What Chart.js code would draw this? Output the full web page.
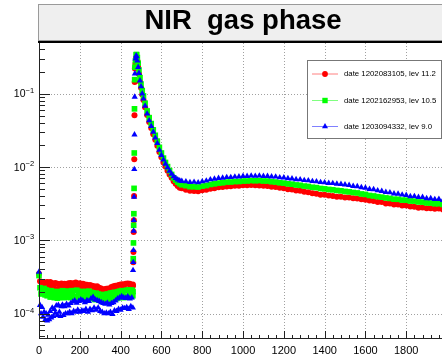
<!DOCTYPE html>
<html>
<head>
<meta charset="utf-8">
<title>NIR gas phase</title>
<script src="https://cdn.jsdelivr.net/npm/chart.js@4.4.1/dist/chart.umd.min.js"></script>
<style>
    html, body { margin: 0; padding: 0; background: #fff; overflow: hidden; }
    #wrap { width: 450px; height: 358px; }
</style>
</head>
<body>
<div id="wrap"><canvas id="nirChart" width="450" height="358"></canvas></div>
<script>
// Channel positions shared by all three runs
const xValues = [
    0, 5, 10, 15, 20, 25, 30, 35, 40, 45, 50, 55, 60, 65, 70, 75, 80, 85, 90, 95,
    100, 105, 110, 115, 120, 125, 130, 135, 140, 145, 150, 155, 160, 165, 170, 175, 180, 185, 190, 195,
    200, 205, 210, 215, 220, 225, 230, 235, 240, 245, 250, 255, 260, 265, 270, 275, 280, 285, 290, 295,
    300, 305, 310, 315, 320, 325, 330, 335, 340, 345, 350, 355, 360, 365, 370, 375, 380, 385, 390, 395,
    400, 405, 410, 415, 420, 425, 430, 435, 440, 445, 450, 455, 460,
    461, 462, 463, 464, 465, 466, 467, 468, 469, 470,
    473, 476, 479, 482, 486, 490, 495, 500, 506, 512,
    520, 530, 540, 550, 560, 570, 580, 590, 600, 610, 620, 630, 640, 650, 660, 670, 680, 690, 700,
    720, 740, 760, 780, 800, 820, 840, 860, 880, 900, 920, 940, 960, 980, 1000, 1020, 1040, 1060, 1080, 1100,
    1120, 1140, 1160, 1180, 1200, 1220, 1240, 1260, 1280, 1300, 1320, 1340, 1360, 1380, 1400, 1420, 1440, 1460, 1480, 1500,
    1520, 1540, 1560, 1580, 1600, 1620, 1640, 1660, 1680, 1700, 1720, 1740, 1760, 1780, 1800, 1820, 1840, 1860, 1880, 1900,
    1920, 1940, 1960, 1980
];

// date 1202083105, lev 11.2
const run1Values = [
    3.5e-4,
    2.75e-4, 2.25e-4, 2.7e-4, 2.55e-4, 2.2e-4, 2.65e-4, 2.3e-4, 2.7e-4, 2.2e-4, 2.45e-4,
    2.7e-4, 2.15e-4, 2.6e-4, 2.2e-4, 2.5e-4, 2.62e-4, 2.12e-4, 2.55e-4, 2.15e-4, 2.5e-4,
    2.1e-4, 2.58e-4, 2.4e-4, 2.08e-4, 2.55e-4, 2.1e-4, 2.5e-4, 2.12e-4, 2.6e-4, 2.2e-4,
    2.62e-4, 2.45e-4, 2.15e-4, 2.6e-4, 2.2e-4, 2.65e-4, 2.2e-4, 2.55e-4, 2.15e-4, 2.6e-4,
    2.42e-4, 2.1e-4, 2.55e-4, 2.12e-4, 2.5e-4, 2.05e-4, 2.48e-4, 2.3e-4, 2.0e-4, 2.45e-4,
    2.02e-4, 2.4e-4, 1.98e-4, 2.35e-4, 2.2e-4, 1.95e-4, 2.35e-4, 1.9e-4, 2.25e-4, 1.85e-4,
    2.2e-4, 2.05e-4, 1.8e-4, 2.15e-4, 1.82e-4, 2.18e-4, 1.85e-4, 2.2e-4, 1.95e-4, 1.88e-4,
    2.3e-4, 1.95e-4, 2.35e-4, 2.0e-4, 2.4e-4, 2.25e-4, 1.98e-4, 2.45e-4, 2.05e-4, 2.5e-4,
    2.1e-4, 2.52e-4, 2.35e-4, 2.08e-4, 2.55e-4, 2.12e-4, 2.58e-4, 2.15e-4, 2.55e-4, 2.4e-4,
    2.15e-4, 2.5e-4,
    2.4e-4, 5.0e-4, 6.9e-4, 1.3e-3, 1.87e-3, 4.0e-3, 1.27e-2, 5.06e-2, 0.144, 0.22,
    0.26, 0.30, 0.31, 0.28, 0.23, 0.185, 0.145, 0.12, 0.097, 0.082,
    0.065, 0.051, 0.041, 0.034, 0.028, 0.0235, 0.0195, 0.016, 0.0135, 0.0115,
    0.0101, 0.0089, 0.0079, 0.0071, 0.0064, 0.0059, 0.0055, 0.0052, 0.0051,
    4.9e-3, 4.72e-3, 4.7e-3, 4.66e-3, 4.8e-3, 4.88e-3, 5.02e-3, 5.12e-3, 5.27e-3, 5.32e-3,
    5.42e-3, 5.43e-3, 5.52e-3, 5.53e-3, 5.62e-3, 5.63e-3, 5.67e-3, 5.62e-3, 5.6e-3, 5.52e-3,
    5.5e-3, 5.38e-3, 5.32e-3, 5.18e-3, 5.12e-3, 4.98e-3, 4.92e-3, 4.78e-3, 4.72e-3, 4.58e-3,
    4.52e-3, 4.38e-3, 4.32e-3, 4.18e-3, 4.17e-3, 4.08e-3, 4.02e-3, 3.93e-3, 3.92e-3, 3.83e-3,
    3.82e-3, 3.73e-3, 3.72e-3, 3.63e-3, 3.57e-3, 3.48e-3, 3.42e-3, 3.33e-3, 3.32e-3, 3.18e-3,
    3.17e-3, 3.08e-3, 3.07e-3, 2.98e-3, 2.97e-3, 2.88e-3, 2.87e-3, 2.78e-3, 2.8e-3, 2.73e-3,
    2.74e-3, 2.68e-3, 2.7e-3, 2.63e-3
];

// date 1202162953, lev 10.5
const run2Values = [
    3.3e-4,
    2.25e-4, 1.85e-4, 2.15e-4, 1.95e-4, 2.2e-4, 1.8e-4, 2.1e-4, 1.75e-4, 2.05e-4, 1.9e-4,
    1.68e-4, 2.05e-4, 1.7e-4, 2.0e-4, 1.65e-4, 1.95e-4, 1.85e-4, 1.62e-4, 2.0e-4, 1.65e-4,
    1.98e-4, 1.7e-4, 2.05e-4, 1.9e-4, 1.65e-4, 2.0e-4, 1.68e-4, 2.02e-4, 1.7e-4, 1.98e-4,
    1.65e-4, 2.05e-4, 1.9e-4, 1.68e-4, 2.05e-4, 1.7e-4, 2.08e-4, 1.68e-4, 2.0e-4, 1.85e-4,
    1.65e-4, 2.0e-4, 1.68e-4, 1.98e-4, 1.65e-4, 2.0e-4, 1.85e-4, 1.62e-4, 2.02e-4, 1.65e-4,
    1.95e-4, 1.6e-4, 1.92e-4, 1.75e-4, 1.55e-4, 1.9e-4, 1.58e-4, 1.85e-4, 1.52e-4, 1.82e-4,
    1.68e-4, 1.5e-4, 1.8e-4, 1.52e-4, 1.82e-4, 1.55e-4, 1.85e-4, 1.7e-4, 1.55e-4, 1.9e-4,
    1.58e-4, 1.92e-4, 1.6e-4, 1.95e-4, 1.78e-4, 1.6e-4, 1.98e-4, 1.65e-4, 2.02e-4, 1.68e-4,
    2.05e-4, 1.85e-4, 1.65e-4, 2.05e-4, 1.7e-4, 2.08e-4, 1.72e-4, 2.1e-4, 1.9e-4, 1.7e-4,
    2.1e-4, 1.75e-4,
    2.0e-4, 5.6e-4, 9.2e-4, 1.6e-3, 2.3e-3, 5.1e-3, 1.55e-2, 6.2e-2, 0.155, 0.23,
    0.28, 0.34, 0.34, 0.31, 0.26, 0.21, 0.165, 0.135, 0.11, 0.093,
    0.074, 0.058, 0.047, 0.039, 0.032, 0.027, 0.0225, 0.0185, 0.0155, 0.0132,
    0.0115, 0.0101, 0.0089, 0.0079, 0.0071, 0.0066, 0.0062, 0.0059, 0.0057,
    5.55e-3, 5.38e-3, 5.37e-3, 5.32e-3, 5.47e-3, 5.58e-3, 5.77e-3, 5.88e-3, 6.02e-3, 6.08e-3,
    6.22e-3, 6.23e-3, 6.32e-3, 6.33e-3, 6.42e-3, 6.43e-3, 6.52e-3, 6.48e-3, 6.52e-3, 6.43e-3,
    6.42e-3, 6.28e-3, 6.22e-3, 6.08e-3, 6.02e-3, 5.88e-3, 5.82e-3, 5.68e-3, 5.62e-3, 5.48e-3,
    5.42e-3, 5.28e-3, 5.22e-3, 5.08e-3, 5.02e-3, 4.93e-3, 4.87e-3, 4.78e-3, 4.72e-3, 4.63e-3,
    4.57e-3, 4.48e-3, 4.42e-3, 4.28e-3, 4.22e-3, 4.08e-3, 4.02e-3, 3.93e-3, 3.87e-3, 3.78e-3,
    3.72e-3, 3.63e-3, 3.62e-3, 3.53e-3, 3.52e-3, 3.43e-3, 3.42e-3, 3.33e-3, 3.32e-3, 3.23e-3,
    3.22e-3, 3.15e-3, 3.15e-3, 3.08e-3
];

// date 1203094332, lev 9.0
const run3Values = [
    3.7e-4,
    1.3e-4, 1.0e-4, 1.22e-4, 9.0e-5, 1.05e-4, 8.2e-5, 1.0e-4, 8.0e-5, 9.6e-5, 8.3e-5,
    1.08e-4, 8.8e-5, 1.2e-4, 9.2e-5, 1.15e-4, 1.02e-4, 1.28e-4, 9.5e-5, 1.3e-4, 1.05e-4,
    9.2e-5, 1.25e-4, 1.32e-4, 9.5e-5, 1.25e-4, 1.0e-4, 1.35e-4, 1.0e-4, 1.28e-4, 1.05e-4,
    1.38e-4, 1.0e-4, 1.45e-4, 1.08e-4, 1.5e-4, 1.05e-4, 1.4e-4, 1.12e-4, 1.48e-4, 1.05e-4,
    1.55e-4, 1.1e-4, 1.5e-4, 1.08e-4, 1.42e-4, 1.15e-4, 1.52e-4, 1.05e-4, 1.48e-4, 1.15e-4,
    1.6e-4, 1.1e-4, 1.68e-4, 1.2e-4, 1.55e-4, 1.12e-4, 1.52e-4, 1.2e-4, 1.48e-4, 1.08e-4,
    1.42e-4, 1.05e-4, 1.38e-4, 1.0e-4, 1.35e-4, 1.02e-4, 1.4e-4, 1.0e-4, 1.32e-4, 1.05e-4,
    1.38e-4, 9.8e-5, 1.42e-4, 1.1e-4, 1.5e-4, 1.08e-4, 1.6e-4, 1.15e-4, 1.65e-4, 1.12e-4,
    1.72e-4, 1.2e-4, 1.65e-4, 1.18e-4, 1.62e-4, 1.22e-4, 1.7e-4, 1.15e-4, 1.6e-4, 1.25e-4,
    1.65e-4, 1.2e-4,
    3.9e-4, 5.0e-4, 7.3e-4, 1.34e-3, 1.87e-3, 3.9e-3, 9.3e-3, 2.76e-2, 9.0e-2, 0.187,
    0.30, 0.33, 0.32, 0.28, 0.23, 0.19, 0.15, 0.125, 0.10, 0.085,
    0.068, 0.053, 0.043, 0.036, 0.030, 0.025, 0.021, 0.017, 0.0145, 0.0125,
    0.011, 0.0098, 0.0088, 0.0080, 0.0074, 0.0070, 0.0067, 0.0065, 0.0064,
    6.32e-3, 6.18e-3, 6.22e-3, 6.12e-3, 6.33e-3, 6.47e-3, 6.73e-3, 6.87e-3, 7.03e-3, 7.07e-3,
    7.23e-3, 7.22e-3, 7.33e-3, 7.37e-3, 7.48e-3, 7.47e-3, 7.58e-3, 7.52e-3, 7.58e-3, 7.47e-3,
    7.48e-3, 7.37e-3, 7.33e-3, 7.17e-3, 7.13e-3, 6.97e-3, 6.93e-3, 6.77e-3, 6.73e-3, 6.57e-3,
    6.53e-3, 6.37e-3, 6.33e-3, 6.17e-3, 6.13e-3, 6.02e-3, 5.98e-3, 5.87e-3, 5.83e-3, 5.72e-3,
    5.63e-3, 5.47e-3, 5.43e-3, 5.27e-3, 5.18e-3, 4.97e-3, 4.93e-3, 4.77e-3, 4.68e-3, 4.52e-3,
    4.48e-3, 4.32e-3, 4.28e-3, 4.17e-3, 4.13e-3, 3.97e-3, 3.98e-3, 3.87e-3, 3.88e-3, 3.72e-3,
    3.73e-3, 3.62e-3, 3.63e-3, 3.53e-3
];

const seriesLabels = ['date 1202083105, lev 11.2', 'date 1202162953, lev 10.5', 'date 1203094332, lev 9.0'];

// Axis ticks
const xMajorTicks = [0, 200, 400, 600, 800, 1000, 1200, 1400, 1600, 1800];
const yDecades = [1e-1, 1e-2, 1e-3, 1e-4];
const yExponents = ['\u22121', '\u22122', '\u22123', '\u22124'];

const FONT = "'Liberation Sans', Arial, Helvetica, sans-serif";

function toPoints(values) {
    return xValues.map((x, i) => ({ x: x, y: values[i] }));
}

// Marker shapes like ROOT styles 20 / 21 / 22
function drawMarker(ctx, style, color, x, y) {
    ctx.fillStyle = color;
    ctx.beginPath();
    if (style === 'circle') {
        ctx.arc(x, y, 2.9, 0, Math.PI * 2);
    } else if (style === 'rect') {
        ctx.rect(x - 2.7, y - 2.7, 5.4, 5.4);
    } else {
        ctx.moveTo(x, y - 3.4);
        ctx.lineTo(x + 3, y + 1.8);
        ctx.lineTo(x - 3, y + 1.8);
        ctx.closePath();
    }
    ctx.fill();
}

// Frame, ticks, grid, title pad and legend box
const rootFrame = {
    id: 'rootFrame',
    beforeDraw(chart) {
        const { ctx, chartArea: area, scales } = chart;
        ctx.save();
        ctx.fillStyle = '#ffffff';
        ctx.fillRect(0, 0, chart.width, chart.height);

        ctx.strokeStyle = '#a0a0a0';
        ctx.lineWidth = 1;
        ctx.setLineDash([1, 2]);
        ctx.beginPath();
        xMajorTicks.forEach(v => {
            if (v === 0) return;
            const px = Math.round(scales.x.getPixelForValue(v)) + 0.5;
            ctx.moveTo(px, area.top);
            ctx.lineTo(px, area.bottom);
        });
        yDecades.forEach(v => {
            const py = Math.round(scales.y.getPixelForValue(v)) + 0.5;
            ctx.moveTo(area.left, py);
            ctx.lineTo(area.right, py);
        });
        ctx.stroke();
        ctx.restore();
    },
    afterDraw(chart) {
        const { ctx, chartArea: area, scales } = chart;
        const xs = scales.x, ys = scales.y;
        ctx.save();

        // axis lines
        ctx.strokeStyle = '#222';
        ctx.lineWidth = 1;
        ctx.beginPath();
        ctx.moveTo(area.left + 0.5, area.top);
        ctx.lineTo(area.left + 0.5, area.bottom);
        ctx.moveTo(area.left, area.bottom - 0.5);
        ctx.lineTo(chart.width, area.bottom - 0.5);

        // x ticks: majors every 200, minors every 40
        for (let v = 0; v <= xs.max; v += 40) {
            const px = Math.round(xs.getPixelForValue(v)) + 0.5;
            const len = v % 200 === 0 ? 8 : 4;
            ctx.moveTo(px, area.bottom);
            ctx.lineTo(px, area.bottom - len);
        }

        // y ticks: decades long, 2..9 short
        for (let n = -5; n <= 0; n++) {
            for (let k = 1; k <= 9; k++) {
                const v = k * Math.pow(10, n);
                if (v < ys.min || v > ys.max) continue;
                const py = Math.round(ys.getPixelForValue(v)) + 0.5;
                ctx.moveTo(area.left, py);
                ctx.lineTo(area.left + (k === 1 ? 11 : 6), py);
            }
        }
        ctx.stroke();

        // y labels 10^n
        ctx.fillStyle = '#000';
        yDecades.forEach((v, i) => {
            const py = ys.getPixelForValue(v);
            ctx.font = '10.5px ' + FONT;
            ctx.textAlign = 'right';
            ctx.textBaseline = 'middle';
            ctx.fillText('10', 25.5, py + 1);
            ctx.font = '7.5px ' + FONT;
            ctx.textAlign = 'left';
            ctx.fillText(yExponents[i], 25.5, py - 3);
        });

        // title pad
        ctx.fillStyle = '#efefef';
        ctx.fillRect(38, 4, chart.width - 38, 37);
        ctx.strokeStyle = '#9a9a9a';
        ctx.strokeRect(38.5, 4.5, chart.width, 36);
        ctx.fillStyle = '#000';
        ctx.fillRect(38, 41, chart.width - 38, 2);
        ctx.font = 'bold 27.5px ' + FONT;
        ctx.textAlign = 'center';
        ctx.textBaseline = 'alphabetic';
        ctx.fillText('NIR  gas phase', 243, 28.8);

        // legend
        const box = { left: 307, top: 60, right: 441, bottom: 138 };
        ctx.fillStyle = '#fff';
        ctx.fillRect(box.left, box.top, box.right - box.left, box.bottom - box.top);
        ctx.strokeStyle = '#777';
        ctx.strokeRect(box.left + 0.5, box.top + 0.5, box.right - box.left, box.bottom - box.top);
        const rows = [73.5, 100, 126];
        chart.data.datasets.forEach((ds, i) => {
            const y = rows[i];
            ctx.strokeStyle = ds.legendLine;
            ctx.lineWidth = 1;
            ctx.beginPath();
            ctx.moveTo(312, y + 0.5);
            ctx.lineTo(338, y + 0.5);
            ctx.stroke();
            drawMarker(ctx, ds.pointStyle, ds.pointBackgroundColor, 325, y + 0.5);
            ctx.fillStyle = '#000';
            ctx.font = '7.8px ' + FONT;
            ctx.textAlign = 'left';
            ctx.textBaseline = 'middle';
            ctx.fillText(ds.label, 344, y + 0.5);
        });
        ctx.restore();
    }
};

function makeDataset(label, values, color, lineColor, style, radius, order) {
    return {
        label: label,
        data: toPoints(values),
        showLine: false,
        pointStyle: style,
        pointRadius: radius,
        pointBackgroundColor: color,
        pointBorderColor: color,
        pointBorderWidth: 0,
        legendLine: lineColor,
        order: order,
        clip: false
    };
}

const ctx = document.getElementById('nirChart');
new Chart(ctx, {
    type: 'scatter',
    data: {
        datasets: [
            makeDataset(seriesLabels[0], run1Values, '#ff0000', '#ff8080', 'circle', 3.0, 3),
            makeDataset(seriesLabels[1], run2Values, '#00ff00', '#80ff80', 'rect', 4.0, 2),
            makeDataset(seriesLabels[2], run3Values, '#0000ff', '#8080ff', 'triangle', 3.6, 1)
        ]
    },
    options: {
        responsive: false,
        animation: false,
        events: [],
        layout: { padding: { left: 0, top: 43, right: 5, bottom: 0 } },
        plugins: {
            legend: { display: false },
            tooltip: { enabled: false },
            title: { display: false }
        },
        scales: {
            x: {
                type: 'linear',
                min: 0,
                max: 1990,
                grid: { display: false, drawTicks: false },
                border: { display: false },
                afterBuildTicks: scale => {
                    scale.ticks = xMajorTicks.map(v => ({ value: v }));
                },
                ticks: {
                    autoSkip: false,
                    maxRotation: 0,
                    padding: 5,
                    color: '#000',
                    font: { family: FONT, size: 11 },
                    callback: value => String(value)
                },
                afterFit: scale => { scale.height = 19; }
            },
            y: {
                type: 'logarithmic',
                min: 4.5e-5,
                max: 0.49,
                grid: { display: false, drawTicks: false },
                border: { display: false },
                ticks: { display: false },
                afterFit: scale => { scale.width = 39; }
            }
        }
    },
    plugins: [rootFrame]
});
</script>
</body>
</html>
